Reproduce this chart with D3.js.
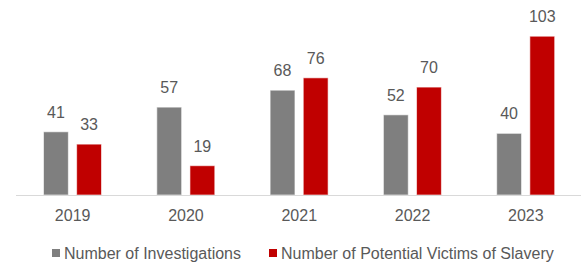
<!DOCTYPE html>
<html>
<head>
<meta charset="utf-8">
<script src="https://cdn.jsdelivr.net/npm/d3@7"></script>
<style>
  body { margin: 0; background: #fff; }
  text { font-family: "Liberation Sans", Arial, sans-serif; fill: #595959; }
</style>
</head>
<body>
<div id="chart"></div>
<script>
const years = ['2019', '2020', '2021', '2022', '2023'];
const seriesNames = ['Number of Investigations', 'Number of Potential Victims of Slavery'];
const investigations = [41, 57, 68, 52, 40];
const victims = [33, 19, 76, 70, 103];
const seriesColors = ['#7f7f7f', '#c00000'];

const width = 581, height = 264;
const baseY = 195;

const svg = d3.select('#chart')
  .append('svg')
  .attr('width', width)
  .attr('height', height);

// category bands
const x = d3.scaleBand()
  .domain(years)
  .range([16, 582.5])
  .paddingInner(0)
  .paddingOuter(0);

const x1 = d3.scaleBand()
  .domain([0, 1])
  .range([27.5, 85.5])
  .paddingInner(0.25);

const y = d3.scaleLinear()
  .domain([0, 120])
  .range([baseY, 10]);

const rows = years.map((yr, i) => ({year: yr, values: [investigations[i], victims[i]]}));

const groups = svg.selectAll('.grp')
  .data(rows)
  .enter()
  .append('g')
  .attr('class', 'grp')
  .attr('transform', d => `translate(${x(d.year)},0)`);

groups.selectAll('rect')
  .data(d => d.values.map((v, k) => ({k, v})))
  .enter()
  .append('rect')
  .attr('x', d => x1(d.k))
  .attr('width', x1.bandwidth())
  .attr('y', d => y(d.v))
  .attr('height', d => baseY - y(d.v))
  .attr('fill', d => seriesColors[d.k])
  .attr('stroke', '#ffffff')
  .attr('stroke-opacity', 0.6)
  .attr('stroke-width', 1);

// value labels
groups.selectAll('.val')
  .data(d => d.values.map((v, k) => ({k, v})))
  .enter()
  .append('text')
  .attr('class', 'val')
  .attr('x', d => x1(d.k) + x1.bandwidth() / 2)
  .attr('y', d => y(d.v) - 14)
  .attr('text-anchor', 'middle')
  .attr('font-size', 16)
  .text(d => d.v);

// axis line
svg.append('line')
  .attr('x1', 16)
  .attr('x2', width)
  .attr('y1', baseY + 0.5)
  .attr('y2', baseY + 0.5)
  .attr('stroke', '#d9d9d9')
  .attr('stroke-width', 1);

// year labels
svg.selectAll('.yr')
  .data(years)
  .enter()
  .append('text')
  .attr('class', 'yr')
  .attr('x', d => x(d) + x.bandwidth() / 2)
  .attr('y', 221)
  .attr('text-anchor', 'middle')
  .attr('font-size', 16)
  .text(d => d);

// legend
const legendX = [52, 269];
const legend = svg.selectAll('.leg')
  .data(seriesNames)
  .enter()
  .append('g')
  .attr('class', 'leg')
  .attr('transform', (d, i) => `translate(${legendX[i]},0)`);

legend.append('rect')
  .attr('x', 0)
  .attr('y', 249)
  .attr('width', 8)
  .attr('height', 8)
  .attr('fill', (d, i) => seriesColors[i]);

legend.append('text')
  .attr('x', 12)
  .attr('y', 259)
  .attr('font-size', 16)
  .text(d => d);
</script>
</body>
</html>
